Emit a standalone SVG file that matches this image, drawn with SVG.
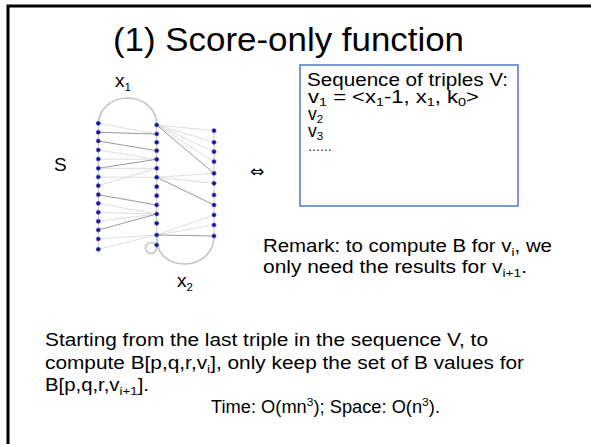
<svg xmlns="http://www.w3.org/2000/svg" width="591" height="444" viewBox="0 0 591 444">
<style>
.t{font-family:"Comic Sans MS","Liberation Sans",sans-serif;fill:#000}
.b{font-size:17.5px}
.s{font-size:11.5px}
.arc{fill:none;stroke:#c4c4c4;stroke-width:1.6}
.col{stroke:#c8c8c8;stroke-width:1}
.f{stroke:#d4d4d4;stroke-width:0.8}
.k{stroke:#9a9a9a;stroke-width:1}
.dot{fill:#16168c;stroke:#5a5ad8;stroke-width:0.6}
</style>
<rect x="0" y="0" width="591" height="444" fill="#fff"/>
<rect id="frame" x="8" y="6" width="620" height="470" fill="none" stroke="#000" stroke-width="3"/>
<text id="title" class="t" x="113" y="51" font-size="33" textLength="351" lengthAdjust="spacingAndGlyphs">(1) Score-only function</text>

<g id="structure">
<path class="arc" d="M98.3,124 A29.2,26 0 0 1 156.7,124"/>
<path class="arc" d="M156.7,238 C156.7,274 214,272 214,236"/>
<circle class="arc" cx="151" cy="248" r="5.5"/>
<line class="col" x1="98.3" y1="123" x2="98.3" y2="250"/>
<line class="col" x1="156.7" y1="124" x2="156.7" y2="245"/>
<line class="col" x1="214" y1="130" x2="214" y2="237"/>
</g>

<g id="connectors">
<line class="f" x1="98.3" y1="123.3" x2="156.7" y2="134"/>
<line class="k" x1="98.3" y1="132.3" x2="156.7" y2="134"/>
<line class="k" x1="98.3" y1="141" x2="156.7" y2="150.7"/>
<line class="f" x1="98.3" y1="150" x2="156.7" y2="159.3"/>
<line class="f" x1="98.3" y1="159" x2="156.7" y2="159.3"/>
<line class="k" x1="98.3" y1="168.3" x2="156.7" y2="159.3"/>
<line class="f" x1="98.3" y1="168.3" x2="156.7" y2="168.3"/>
<line class="f" x1="98.3" y1="177" x2="156.7" y2="177.3"/>
<line class="f" x1="98.3" y1="185.7" x2="156.7" y2="168.3"/>
<line class="k" x1="98.3" y1="194.7" x2="156.7" y2="205"/>
<line class="f" x1="98.3" y1="203.3" x2="156.7" y2="214"/>
<line class="f" x1="98.3" y1="212.3" x2="156.7" y2="214"/>
<line class="f" x1="98.3" y1="221.3" x2="156.7" y2="214"/>
<line class="k" x1="98.3" y1="230" x2="156.7" y2="214"/>
<line class="f" x1="98.3" y1="239" x2="156.7" y2="235"/>
<line class="f" x1="98.3" y1="249.3" x2="156.7" y2="235"/>
<line class="f" x1="156.7" y1="125" x2="214" y2="130.7"/>
<line class="f" x1="156.7" y1="125" x2="214" y2="142.3"/>
<line class="f" x1="156.7" y1="125" x2="214" y2="151.7"/>
<line class="f" x1="156.7" y1="125" x2="214" y2="161.7"/>
<line class="k" x1="156.7" y1="125" x2="214" y2="173.3"/>
<line class="f" x1="156.7" y1="177.3" x2="214" y2="173.3"/>
<line class="f" x1="156.7" y1="177.3" x2="214" y2="183.3"/>
<line class="k" x1="156.7" y1="177.3" x2="214" y2="205"/>
<line class="f" x1="156.7" y1="235" x2="214" y2="215"/>
<line class="f" x1="156.7" y1="235" x2="214" y2="225"/>
<line class="k" x1="156.7" y1="235" x2="214" y2="236"/>
</g>

<g id="dots-left">
<circle class="dot" cx="98.3" cy="123.3" r="2.1"/><circle class="dot" cx="98.3" cy="132.3" r="2.1"/><circle class="dot" cx="98.3" cy="141" r="2.1"/><circle class="dot" cx="98.3" cy="150" r="2.1"/><circle class="dot" cx="98.3" cy="159" r="2.1"/><circle class="dot" cx="98.3" cy="168.3" r="2.1"/><circle class="dot" cx="98.3" cy="177" r="2.1"/><circle class="dot" cx="98.3" cy="185.7" r="2.1"/><circle class="dot" cx="98.3" cy="194.7" r="2.1"/><circle class="dot" cx="98.3" cy="203.3" r="2.1"/><circle class="dot" cx="98.3" cy="212.3" r="2.1"/><circle class="dot" cx="98.3" cy="221.3" r="2.1"/><circle class="dot" cx="98.3" cy="230" r="2.1"/><circle class="dot" cx="98.3" cy="239" r="2.1"/><circle class="dot" cx="98.3" cy="249.3" r="2.1"/>
</g>
<g id="dots-middle">
<circle class="dot" cx="156.7" cy="125" r="2.1"/><circle class="dot" cx="156.7" cy="134" r="2.1"/><circle class="dot" cx="156.7" cy="142.3" r="2.1"/><circle class="dot" cx="156.7" cy="150.7" r="2.1"/><circle class="dot" cx="156.7" cy="159.3" r="2.1"/><circle class="dot" cx="156.7" cy="168.3" r="2.1"/><circle class="dot" cx="156.7" cy="177.3" r="2.1"/><circle class="dot" cx="156.7" cy="186.7" r="2.1"/><circle class="dot" cx="156.7" cy="195.7" r="2.1"/><circle class="dot" cx="156.7" cy="205" r="2.1"/><circle class="dot" cx="156.7" cy="214" r="2.1"/><circle class="dot" cx="156.7" cy="223.3" r="2.1"/><circle class="dot" cx="156.7" cy="235" r="2.1"/><circle class="dot" cx="156.7" cy="245" r="2.1"/>
</g>
<g id="dots-right">
<circle class="dot" cx="214" cy="130.7" r="2.1"/><circle class="dot" cx="214" cy="142.3" r="2.1"/><circle class="dot" cx="214" cy="151.7" r="2.1"/><circle class="dot" cx="214" cy="161.7" r="2.1"/><circle class="dot" cx="214" cy="173.3" r="2.1"/><circle class="dot" cx="214" cy="183.3" r="2.1"/><circle class="dot" cx="214" cy="195" r="2.1"/><circle class="dot" cx="214" cy="205" r="2.1"/><circle class="dot" cx="214" cy="215" r="2.1"/><circle class="dot" cx="214" cy="225" r="2.1"/><circle class="dot" cx="214" cy="236" r="2.1"/>
</g>

<g id="label-x1"><text class="t" x="115" y="87" font-size="19">x<tspan class="s" dy="4">1</tspan></text></g>
<g id="label-x2"><text class="t" x="177" y="287" font-size="19">x<tspan class="s" dy="4">2</tspan></text></g>
<g id="label-S"><text class="t" x="54" y="171" font-size="19">S</text></g>
<g id="equiv"><text x="257" y="177" font-size="17" text-anchor="middle" font-family="DejaVu Sans, sans-serif">⇔</text></g>

<g id="box">
<rect x="300" y="65" width="218" height="141" fill="#fff" stroke="#4f78c8" stroke-width="1.5"/>
<text class="t b" x="307" y="86" textLength="201" lengthAdjust="spacingAndGlyphs">Sequence of triples V:</text>
<text class="t b" x="308" y="103" textLength="171" lengthAdjust="spacingAndGlyphs">v<tspan class="s" dy="3">1</tspan><tspan dy="-3"> = &lt;x</tspan><tspan class="s" dy="3">1</tspan><tspan dy="-3">-1, x</tspan><tspan class="s" dy="3">1</tspan><tspan dy="-3">, k</tspan><tspan class="s" dy="3">0</tspan><tspan dy="-3">&gt;</tspan></text>
<text class="t b" x="308" y="120">v<tspan class="s" dy="3">2</tspan></text>
<text class="t b" x="308" y="137">v<tspan class="s" dy="3">3</tspan></text>
<text class="t" x="308" y="151" font-size="12">……</text>
</g>

<g id="remark">
<text class="t b" x="263" y="252" textLength="289" lengthAdjust="spacingAndGlyphs">Remark: to compute B for v<tspan class="s" dy="4">i</tspan><tspan dy="-4">, we</tspan></text>
<text class="t b" x="263" y="273" textLength="264" lengthAdjust="spacingAndGlyphs">only need the results for v<tspan class="s" dy="4">i+1</tspan><tspan dy="-4">.</tspan></text>
</g>

<g id="body">
<text class="t b" x="45" y="346" textLength="443" lengthAdjust="spacingAndGlyphs">Starting from the last triple in the sequence V, to</text>
<text class="t b" x="45" y="368.5" textLength="479" lengthAdjust="spacingAndGlyphs">compute B[p,q,r,v<tspan class="s" dy="4">i</tspan><tspan dy="-4">], only keep the set of B values for</tspan></text>
<text class="t b" x="45" y="391" textLength="104" lengthAdjust="spacingAndGlyphs">B[p,q,r,v<tspan class="s" dy="4">i+1</tspan><tspan dy="-4">].</tspan></text>
<text class="t b" x="211" y="413" textLength="229" lengthAdjust="spacingAndGlyphs">Time: O(mn<tspan class="s" dy="-7">3</tspan><tspan dy="7">); Space: O(n</tspan><tspan class="s" dy="-7">3</tspan><tspan dy="7">).</tspan></text>
</g>
</svg>
